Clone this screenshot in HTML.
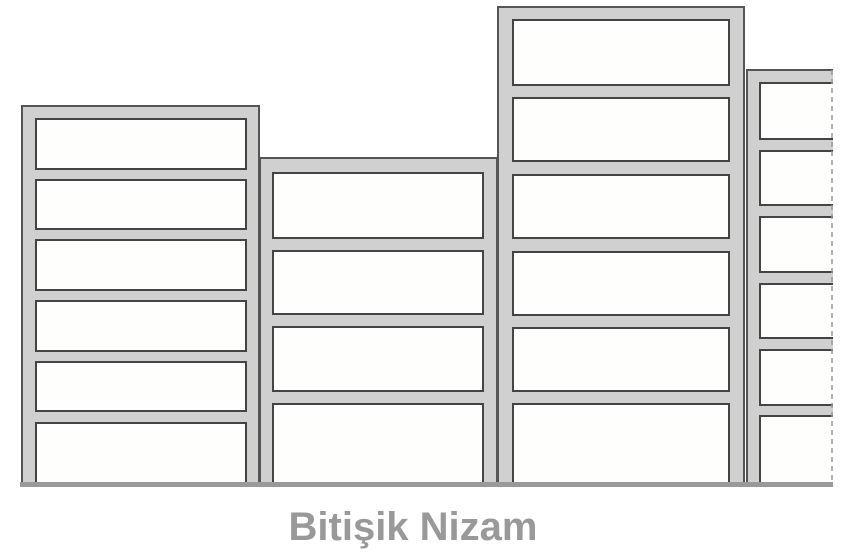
<!DOCTYPE html>
<html><head><meta charset="utf-8"><style>
html,body{margin:0;padding:0;background:#fff;width:852px;height:558px;overflow:hidden}
svg{display:block}
</style></head><body>
<svg width="852" height="558" viewBox="0 0 852 558">
<g id="b"></g>
<rect x="20" y="482" width="813" height="5" fill="#999"/>
<line x1="832" y1="70" x2="832" y2="485" stroke="#999" stroke-width="1.5" stroke-dasharray="5,4"/>
<text x="413" y="540" text-anchor="middle" font-family="Liberation Sans, sans-serif" font-weight="bold" font-size="40" fill="#999">Bitişik Nizam</text>
</svg>
<script>
const buildings=[
 {x:22,w:237,top:106,wx:36,ww:210,rows:[[119,169],[180,229],[240,290],[301,351],[362,411],[423,485]]},
 {x:260,w:237,top:158,wx:273,ww:210,rows:[[173,238],[251,314],[327,391],[404,485]]},
 {x:498,w:246,top:7,wx:513,ww:216,rows:[[20,85],[98,161],[175,238],[252,315],[328,391],[404,485]]},
 {x:747,w:90,top:70,wx:760,ww:80,rows:[[83,139],[151,205],[217,272],[284,338],[350,405],[416,485]]}
];
const ns='http://www.w3.org/2000/svg';
const g=document.getElementById('b');
buildings.forEach((b,i)=>{
 const r=document.createElementNS(ns,'rect');
 r.setAttribute('x',b.x);r.setAttribute('y',b.top);r.setAttribute('width',b.w);r.setAttribute('height',485-b.top);
 r.setAttribute('fill','#d0d0d0');r.setAttribute('stroke','#555');r.setAttribute('stroke-width','2');
 
 
 g.appendChild(r);
 b.rows.forEach((rw,j)=>{
  const w=document.createElementNS(ns,'rect');
  w.setAttribute('x',b.wx);w.setAttribute('y',rw[0]);w.setAttribute('width',b.ww);w.setAttribute('height',rw[1]-rw[0]);
  w.setAttribute('fill','#fefefc');w.setAttribute('stroke','#444');w.setAttribute('stroke-width','2');
  
  
  g.appendChild(w);
 });
});
const m=document.createElementNS(ns,'rect');
m.setAttribute('x',833);m.setAttribute('y',0);m.setAttribute('width',19);m.setAttribute('height',558);m.setAttribute('fill','#fff');


g.appendChild(m);
</script>
</body></html>
